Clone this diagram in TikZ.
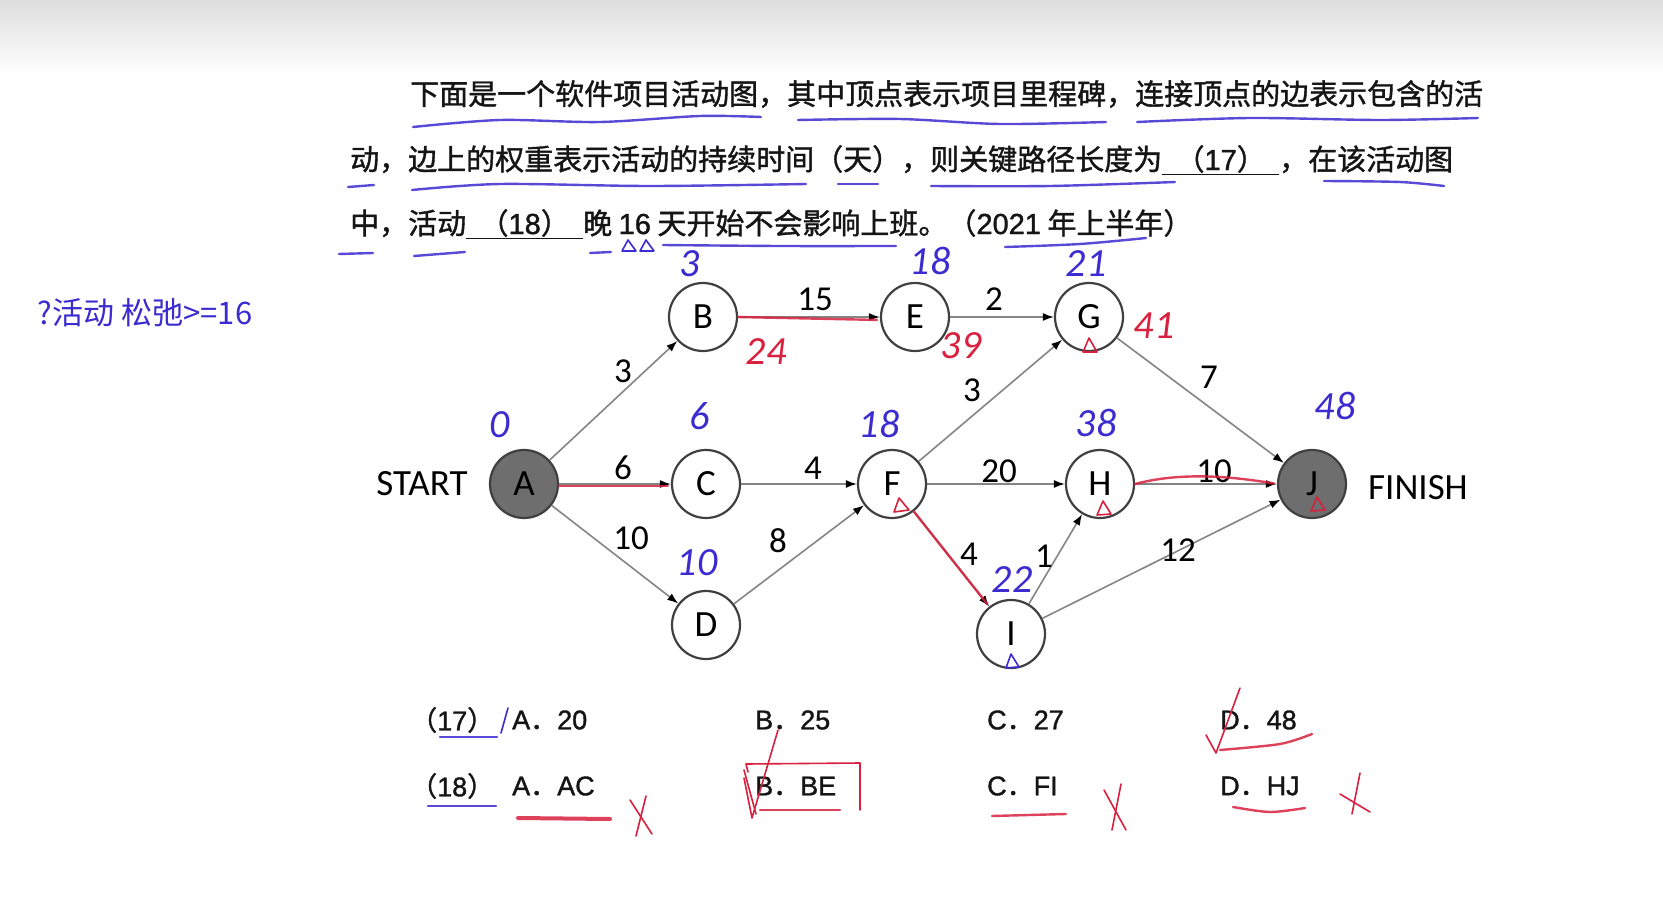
\documentclass[tikz,border=0pt]{standalone}
\usepackage{fontspec}
\setmainfont{Carlito}
\newfontfamily\cjk{Noto Sans CJK SC}
\newfontfamily\cjkb[FakeBold=1.3]{Noto Sans CJK SC}
\newfontfamily\latb[FakeBold=1.3]{Liberation Sans}
\usetikzlibrary{arrows.meta}
\definecolor{edgegray}{HTML}{858585}
\definecolor{nodeborder}{HTML}{404040}
\definecolor{darkfill}{HTML}{6E6E6E}
\definecolor{penblue}{HTML}{3B2BD0}
\definecolor{penred}{HTML}{D9203E}
\definecolor{ink}{HTML}{151515}
\begin{document}
\begin{tikzpicture}[x=1pt,y=-1pt,
  vert/.style={circle,draw=nodeborder,line width=2.2pt,minimum size=68pt,inner sep=0pt,fill=white,font=\fontsize{37}{37}\selectfont},
  term/.style={vert,fill=darkfill},
  edge/.style={draw=edgegray,line width=1.6pt,-{Latex[black,length=11pt,width=8pt]}},
  wt/.style={inner sep=0pt,font=\fontsize{35}{35}\selectfont},
  side/.style={inner sep=0pt,font=\fontsize{37}{37}\selectfont},
  qline/.style={anchor=west,inner sep=0pt,text=ink,font=\cjkb\fontsize{29}{29}\selectfont},
  opt/.style={anchor=west,inner sep=0pt,text=ink,font=\cjkb\fontsize{27}{27}\selectfont},
  bnum/.style={inner sep=0pt,text=penblue,font=\itshape\fontsize{40}{40}\selectfont},
  rnum/.style={inner sep=0pt,text=penred,font=\itshape\fontsize{40}{40}\selectfont},
  bpen/.style={draw=penblue,line width=2.4pt,line cap=round,opacity=0.85},
  rpen/.style={draw=penred,line width=2.4pt,line cap=round,opacity=0.85},
  rthin/.style={draw=penred,line width=1.6pt,line cap=round,line join=round},
  bthin/.style={draw=penblue,line width=1.6pt,line cap=round,line join=round},
]
\useasboundingbox (0,0) rectangle (1663,899);
\fill[white] (0,0) rectangle (1663,899);
\shade[top color=black!13,bottom color=white] (0,0) rectangle (1663,75);

% question text
\node[qline] (q1) at (410,94) {下面是一个软件项目活动图，其中顶点表示项目里程碑，连接顶点的边表示包含的活};
\node[qline] (q2) at (350,160) {动，边上的权重表示活动的持续时间（天），则关键路径长度为\underline{\makebox[117pt]{（{\latb 17}）}}，在该活动图};
\node[qline] (q3) at (350,224) {中，活动\underline{\makebox[117pt]{（{\latb 18}）}}晚 {\latb 16} 天开始不会影响上班。（{\latb 2021} 年上半年）};

% nodes
\node[term] (A) at (524,484) {A};
\node[vert] (B) at (703,317) {B};
\node[vert] (C) at (706,484) {C};
\node[vert] (D) at (706,625) {D};
\node[vert] (E) at (915,317) {E};
\node[vert] (F) at (892,484) {F};
\node[vert] (G) at (1089,317) {G};
\node[vert] (H) at (1100,484) {H};
\node[vert] (I) at (1011,634) {I};
\node[term] (J) at (1312,484) {J};
\node[side] (start) at (422,484) {START};
\node[side] (finish) at (1418,488) {FINISH};

% edges
\draw[edge] (A) -- (B);
\draw[edge] (A) -- (C);
\draw[edge] (A) -- (D);
\draw[edge] (B) -- (E);
\draw[edge] (C) -- (F);
\draw[edge] (D) -- (F);
\draw[edge] (E) -- (G);
\draw[edge] (F) -- (G);
\draw[edge] (F) -- (H);
\draw[edge] (F) -- (I);
\draw[edge] (I) -- (H);
\draw[edge] (G) -- (J);
\draw[edge] (H) -- (J);
\draw[edge] (I) -- (J);

% weights
\node[wt] (wab) at (623,371) {3};
\node[wt] (wac) at (623,468) {6};
\node[wt] (wad) at (631,538) {10};
\node[wt] (wbe) at (815,299) {15};
\node[wt] (wcf) at (813,468) {4};
\node[wt] (wdf) at (778,541) {8};
\node[wt] (weg) at (994,299) {2};
\node[wt] (wfg) at (972,390) {3};
\node[wt] (wfh) at (999,471) {20};
\node[wt] (wgj) at (1209,377) {7};
\node[wt] (wfi) at (969,554) {4};
\node[wt] (wih) at (1044,556) {1};
\node[wt] (wij) at (1178,550) {12};
\node[wt] (whj) at (1214,471) {10};

% red critical path strokes
\draw[rpen,shorten >=3pt] (B.east) -- ([yshift=-3pt]E.west);
\draw[rpen,shorten >=3pt] ([yshift=-2pt]A.east) -- ([yshift=-2pt]C.west);
\draw[rpen,shorten >=3pt] (F) -- (I);
\draw[rpen,shorten >=3pt] (H.east) .. controls (1180,472) and (1230,476) .. (J.west);

% handwritten numbers
\node[bnum] (nA) at (500,425) {0};
\node[bnum] (nB) at (690,264) {3};
\node[bnum] (nC) at (700,416) {6};
\node[bnum] (nD) at (697,563) {10};
\node[bnum] (nE) at (930,261) {18};
\node[bnum] (nG) at (1086,264) {21};
\node[bnum] (nF) at (879,424) {18};
\node[bnum] (nH) at (1096,423) {38};
\node[bnum] (nJ) at (1335,406) {48};
\node[bnum] (nI) at (1012,580) {22};
\node[rnum] (lB) at (766,352) {24};
\node[rnum] (lE) at (961,346) {39};
\node[rnum] (lG) at (1154,326) {41};
\node[inner sep=0pt,text=penblue,font=\cjk\fontsize{31}{31}\selectfont] (note) at (145,313) {?活动 松弛>=16};

% small triangles in nodes
\draw[rthin] (1083,352) -- (1089,338) -- (1097,352) -- cycle;
\draw[rthin] (894,512) -- (899,498) -- (909,510) -- cycle;
\draw[rthin] (1097,515) -- (1103,501) -- (1111,514) -- cycle;
\draw[rthin] (1311,511) -- (1317,497) -- (1325,510) -- cycle;
\draw[bthin] (1006,668) -- (1011,654) -- (1019,667) -- cycle;

% text underlines (blue)
\draw[bpen] plot[smooth] coordinates {(413,127) (500,120) (600,122) (700,116) (761,117)};
\draw[bpen] plot[smooth] coordinates {(798,120) (900,119) (1000,124) (1106,122)};
\draw[bpen] plot[smooth] coordinates {(1137,122) (1250,118) (1380,120) (1478,118)};
\draw[bpen] (348,187) -- (374,185);
\draw[bpen] plot[smooth] coordinates {(412,190) (500,184) (650,186) (806,184)};
\draw[bpen] (838,184) -- (878,184);
\draw[bpen] plot[smooth] coordinates {(931,186) (1050,186) (1175,182)};
\draw[bpen] plot[smooth] coordinates {(1324,181) (1400,182) (1444,186)};
\draw[bpen] (339,254) -- (373,253);
\draw[bpen] (414,256) -- (465,252);
\draw[bpen] (590,253) -- (611,252);
\draw[bthin] (622,251) -- (628,240) -- (636,251) -- cycle;
\draw[bthin] (640,251) -- (646,240) -- (654,251) -- cycle;
\draw[bpen] plot[smooth] coordinates {(663,245) (780,246) (896,246)};
\draw[bpen] plot[smooth] coordinates {(1005,247) (1080,244) (1146,238)};

% options
\node[opt] (o17) at (410,720) {（{\latb 17}）};
\node[opt] (o17a) at (512,720) {{\latb A}．{\latb 20}};
\node[opt] (o17b) at (755,720) {{\latb B}．{\latb 25}};
\node[opt] (o17c) at (987,720) {{\latb C}．{\latb 27}};
\node[opt] (o17d) at (1220,720) {{\latb D}．{\latb 48}};
\node[opt] (o18) at (410,786) {（{\latb 18}）};
\node[opt] (o18a) at (512,786) {{\latb A}．{\latb AC}};
\node[opt] (o18b) at (755,786) {{\latb B}．{\latb BE}};
\node[opt] (o18c) at (987,786) {{\latb C}．{\latb FI}};
\node[opt] (o18d) at (1220,786) {{\latb D}．{\latb HJ}};

% option marks
\draw[bpen] (440,737) -- (497,737);
\draw[bthin] (508,708) -- (501,733);
\draw[bpen] (428,806) -- (496,806);
\draw[rpen,line width=4pt] (518,818) -- (610,819);
\draw[rthin] (630,800) -- (652,834);
\draw[rthin] (646,796) -- (636,836);
\draw[rthin] (748,772) -- (746,764) -- (860,763) -- (860,810);
\draw[rthin] (744,770) -- (756,814);
\draw[rpen] (760,810) -- (840,810);
\draw[rthin] (744,778) -- (752,818) -- (778,730);
\draw[rpen] (992,816) -- (1066,814);
\draw[rthin] (1104,790) -- (1126,830);
\draw[rthin] (1121,784) -- (1112,830);
\draw[rpen] plot[smooth] coordinates {(1233,807) (1270,812) (1305,808)};
\draw[rthin] (1340,794) -- (1370,812);
\draw[rthin] (1360,773) -- (1352,814);
\draw[rthin] (1206,735) -- (1216,753) -- (1240,688);
\draw[rpen] plot[smooth] coordinates {(1220,750) (1280,744) (1312,734)};
\end{tikzpicture}
\end{document}
